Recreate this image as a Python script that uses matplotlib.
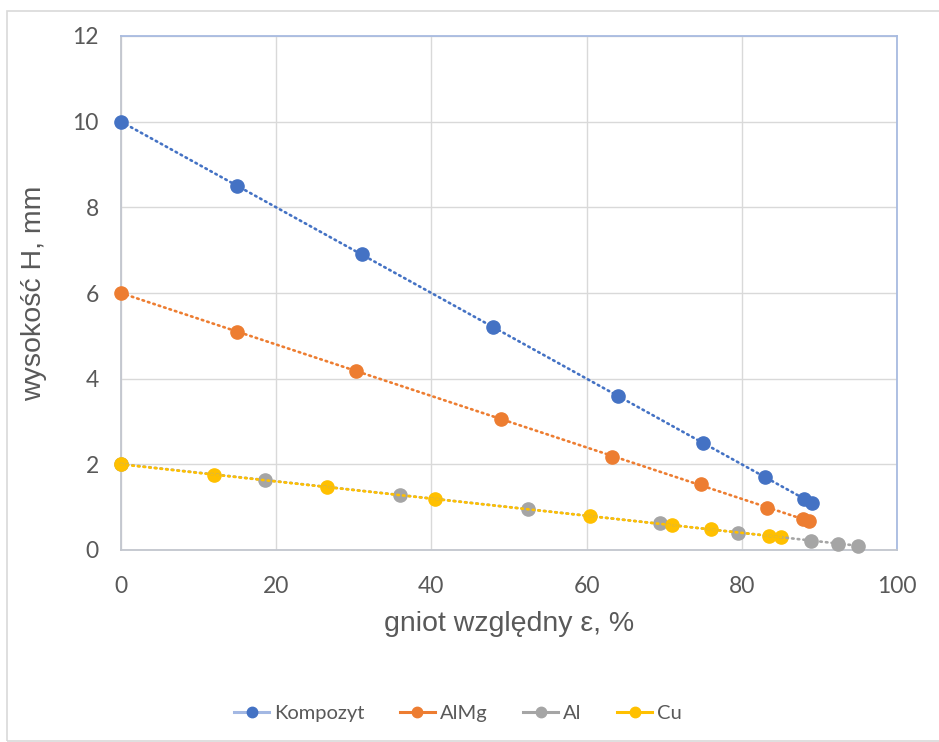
import numpy as np
import matplotlib
matplotlib.use("Agg")
import matplotlib.pyplot as plt
from matplotlib.lines import Line2D
from matplotlib.patches import Rectangle

# Relative reduction (%) and specimen height (mm) for each material
series_names = ["Kompozyt", "AlMg", "Al", "Cu"]

eps_kompozyt = [0, 15, 31, 48, 64, 75, 83, 88, 89]
h_kompozyt = [10.0, 8.5, 6.9, 5.2, 3.6, 2.5, 1.7, 1.2, 1.1]

eps_almg = [0, 15, 30.3, 49, 63.3, 74.8, 83.2, 87.9, 88.6]
h_almg = [6.0, 5.1, 4.18, 3.05, 2.18, 1.53, 0.99, 0.72, 0.68]

eps_al = [0, 18.6, 36, 52.4, 69.5, 79.5, 88.9, 92.4, 95]
h_al = [2.0, 1.64, 1.28, 0.96, 0.62, 0.4, 0.22, 0.15, 0.1]

eps_cu = [0, 12, 26.5, 40.5, 60.4, 71, 76, 83.5, 85.1]
h_cu = [2.0, 1.76, 1.47, 1.19, 0.79, 0.58, 0.48, 0.33, 0.3]

x_ticks = [0, 20, 40, 60, 80, 100]
y_ticks = [0, 2, 4, 6, 8, 10, 12]

colors = ["#4472C4", "#ED7D31", "#A5A5A5", "#FFC000"]
legend_line_colors = ["#A3B8E3", "#ED7D31", "#A5A5A5", "#FFC000"]
text_color = "#595959"

data = [(eps_kompozyt, h_kompozyt), (eps_almg, h_almg),
        (eps_al, h_al), (eps_cu, h_cu)]

fig = plt.figure(figsize=(9.39, 7.42), dpi=100)
fig.patch.set_facecolor("white")

# light chart-area frame
fig.patches.append(Rectangle((7 / 939, 1 / 742), 1.0, 730 / 742,
                             transform=fig.transFigure, fill=False,
                             edgecolor="#d9d9d9", linewidth=1.2, zorder=0))

ax = fig.add_axes([121 / 939, 192 / 742, 776 / 939, 514 / 742])

# markers first
for (x, y), c in zip(data, colors):
    ax.plot(x, y, linestyle="none", marker="o", markersize=9.5,
            color=c, zorder=3, clip_on=False)

# linear trendlines on top of the markers
for (x, y), c in zip(data, colors):
    k, b = np.polyfit(x, y, 1)
    xs = np.array([min(x), max(x)])
    ax.plot(xs, k * xs + b, linestyle=(0, (0.6, 1.55)), linewidth=1.9,
            color=c, dash_capstyle="round", zorder=4, clip_on=False)

ax.set_xlim(0, 100)
ax.set_ylim(0, 12)
ax.set_xticks(x_ticks)
ax.set_yticks(y_ticks)
ax.grid(True, color="#d9d9d9", linewidth=1.0)
ax.set_axisbelow(True)
ax.tick_params(length=0, labelsize=16.5, labelcolor=text_color)
for lab in ax.get_xticklabels() + ax.get_yticklabels():
    lab.set_family("Lato")
ax.tick_params(axis="y", pad=16)
ax.tick_params(axis="x", pad=19)

for side in ("left", "bottom"):
    ax.spines[side].set_color("#c2c6ce")
    ax.spines[side].set_linewidth(1.3)
for side in ("top", "right"):
    ax.spines[side].set_color("#a8bbe0")
    ax.spines[side].set_linewidth(1.3)

ax.set_xlabel("gniot względny ε, %", fontsize=20.5, color=text_color,
              family="Liberation Sans", labelpad=10)
ax.set_ylabel("wysokość H, mm", fontsize=20.5, color=text_color,
              family="Liberation Sans", labelpad=18)

handles = [Line2D([0], [0], color=lc, linewidth=2.2, marker="o",
                  markersize=7.5, markerfacecolor=c, markeredgecolor=c)
           for c, lc in zip(colors, legend_line_colors)]
leg = fig.legend(handles, series_names, loc="center",
                 bbox_to_anchor=(0.4878, 1 - 713 / 742), ncol=4,
                 frameon=False, prop={"family": "Lato", "size": 14.5},
                 handlelength=1.75, handletextpad=0.25, columnspacing=1.75)
for t in leg.get_texts():
    t.set_color(text_color)

fig.savefig("out.png", dpi=100, facecolor="white")
